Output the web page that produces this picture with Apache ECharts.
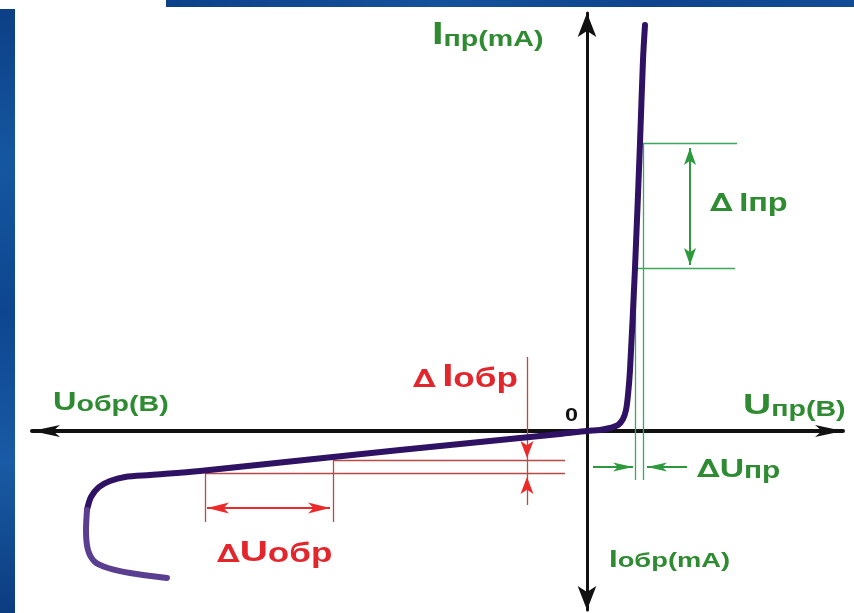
<!DOCTYPE html>
<html lang="ru">
<head>
<meta charset="utf-8">
<title>Вольт-амперная характеристика диода</title>
<script src="https://cdn.jsdelivr.net/npm/echarts@6/dist/echarts.min.js"></script>
<style>
  html, body { margin: 0; padding: 0; background: #ffffff; }
  #chart { width: 854px; height: 613px; }
</style>
</head>
<body>
<div id="chart"></div>
<script>
// ---- Diode I–V curve, schematic units (same scale on both axes) ----
// forward branch, from the top of the steep part down to the origin
const forwardBranch = [
  [5.8, 40.6], [5.6, 37.1], [5.3, 28.8], [4.8, 16.3], [4.3, 6.1], [4.1, 3.6],
  [3.9, 2.1], [3.6, 1.2], [3.1, 0.6], [2.3, 0.3], [1.3, 0.1], [0, 0]
];
// reverse branch, from the origin to the start of breakdown
const reverseBranch = [
  [0, 0], [-2.7, -0.3], [-8.7, -0.9], [-18.7, -1.9], [-25.4, -2.6], [-38.7, -4.0],
  [-43.7, -4.4], [-46.2, -4.6], [-47.7, -5.0], [-48.8, -5.6], [-49.6, -6.6], [-50.0, -7.9]
];
// breakdown hook
const breakdownBranch = [
  [-50.0, -7.9], [-50.1, -9.9], [-49.9, -11.9], [-49.2, -13.1], [-47.9, -13.7],
  [-45.7, -14.2], [-42.0, -14.7]
];

// ΔIпр / ΔUпр dimension lines
const forwardGuides = [
  [[5.3, 28.8], [15.0, 28.8]],
  [[4.8, 16.3], [14.8, 16.3]],
  [[5.6, 28.8], [5.6, -4.9]],
  [[4.8, 16.3], [4.8, -4.9]]
];
const forwardShafts = [
  [[10.3, 28.3], [10.3, 16.6]],
  [[0.6, -3.6], [4.6, -3.6]],
  [[10.0, -3.6], [6.0, -3.6]]
];
const forwardHeads = [
  [10.3, 28.3, 'up'], [10.3, 16.6, 'down'], [4.6, -3.6, 'right'], [6.0, -3.6, 'left']
];

// ΔIобр / ΔUобр dimension lines
const reverseGuides = [
  [[-25.4, -2.9], [-2.2, -2.9]],
  [[-38.2, -4.2], [-2.2, -4.2]],
  [[-6.0, 7.4], [-6.0, -7.4]],
  [[-38.2, -4.2], [-38.2, -9.1]],
  [[-25.4, -2.9], [-25.4, -9.1]]
];
const reverseShafts = [
  [[-38.0, -7.7], [-25.7, -7.7]]
];
const reverseHeads = [
  [-6.0, -2.7, 'down'], [-6.0, -4.6, 'up'], [-38.0, -7.7, 'left'], [-25.7, -7.7, 'right']
];

// captions
const axisTitles = ['Iпр(mA)', 'Uобр(B)', 'Uпр(B)', 'Iобр(mA)'];
const deltaTitles = ['ΔIпр', 'ΔUпр', 'ΔIобр', 'ΔUобр'];
const originLabel = '0';

// ---- layout & styling ----
const X_MIN = -55.5, X_MAX = 25.6, Y_MIN = -17.9, Y_MAX = 41.8;
const CURVE = '#2f1263';
const CURVE_HOOK = '#5a3f91';
const GREEN_LINE = '#3aa85a';
const GREEN_ARROW = '#2c9a3c';
const GREEN_TEXT = '#2e8b31';
const RED_LINE = '#b94a46';
const RED_ARROW = '#ec2a2a';
const RED_TEXT = '#e2262c';
const FONT = '"Liberation Sans", Arial, sans-serif';
const DELTA_FONT = '"DejaVu Sans", sans-serif';
const STRETCH = 1.3;
const ARROW_PATH = 'path://M0,0L6,16L0,12L-6,16Z';

const captionLayout = {
  'Iпр(mA)':  { at: [-15.5, 38.6], big: 32, small: 22, color: GREEN_TEXT },
  'Uобр(B)':  { at: [-53.4, 2.0],  big: 25, small: 22, color: GREEN_TEXT },
  'Uпр(B)':   { at: [15.6, 1.6],   big: 30, small: 22, color: GREEN_TEXT },
  'Iобр(mA)': { at: [2.2, -13.6],  big: 24, small: 21, color: GREEN_TEXT },
  'ΔIпр':     { at: [12.3, 21.9],  delta: 25, gap: 5, big: 25, small: 25, color: GREEN_TEXT },
  'ΔUпр':     { at: [11.0, -4.7],  delta: 25, gap: 0, big: 26, small: 23, color: GREEN_TEXT },
  'ΔIобр':    { at: [-17.4, 4.4],  delta: 25, gap: 5, big: 31, small: 27, color: RED_TEXT },
  'ΔUобр':    { at: [-37.0, -13.1], delta: 25, gap: 0, big: 30, small: 27, color: RED_TEXT },
  '0':        { at: [-2.2, 0.9],   big: 18, small: 18, color: '#111111' }
};

const chart = echarts.init(document.getElementById('chart'), null, { renderer: 'canvas' });

function guideSeries(segments, color, width, z) {
  return {
    type: 'lines', coordinateSystem: 'cartesian2d', silent: true, z: z,
    symbol: 'none',
    lineStyle: { color: color, width: width, opacity: 1, curveness: 0 },
    data: segments.map(function (c) { return { coords: c }; })
  };
}

function headSeries(list, sizeV, sizeH, color) {
  const rot = { up: 0, down: 180, left: 90, right: -90 };
  return {
    type: 'scatter', silent: true, z: 4, symbol: ARROW_PATH, symbolKeepAspect: false,
    itemStyle: { color: color, opacity: 1 },
    data: list.map(function (p) {
      const dir = p[2];
      const s = (dir === 'up' || dir === 'down') ? sizeV : sizeH;
      const h = s[1] / 2;
      const off = { up: [0, h], down: [0, -h], left: [h, 0], right: [-h, 0] }[dir];
      return { value: [p[0], p[1]], symbolSize: s, symbolRotate: rot[dir], symbolOffset: off };
    })
  };
}

const option = {
  animation: false,
  backgroundColor: '#ffffff',
  grid: { left: 32, right: 11, top: 13, bottom: 3, containLabel: false, outerBoundsMode: 'none' },
  xAxis: {
    type: 'value', min: X_MIN, max: X_MAX,
    axisLine: { onZero: true, symbol: ['arrow', 'arrow'], symbolSize: [9, 28],
      lineStyle: { color: '#111111', width: 4 } },
    axisTick: { show: false }, axisLabel: { show: false }, splitLine: { show: false }
  },
  yAxis: {
    type: 'value', min: Y_MIN, max: Y_MAX,
    axisLine: { onZero: true, symbol: ['arrow', 'arrow'], symbolSize: [14, 24],
      lineStyle: { color: '#111111', width: 3 } },
    axisTick: { show: false }, axisLabel: { show: false }, splitLine: { show: false }
  },
  series: [
    guideSeries(forwardGuides, GREEN_LINE, 1.3, 2),
    guideSeries(forwardShafts, GREEN_ARROW, 2, 3),
    headSeries(forwardHeads, [12, 17], [9, 20], GREEN_ARROW),
    guideSeries(reverseGuides, RED_LINE, 1.3, 2),
    guideSeries(reverseShafts, RED_ARROW, 2, 3),
    headSeries(reverseHeads, [13, 17], [11, 22], RED_ARROW),
    {
      type: 'line', name: 'I(U)', data: forwardBranch.concat(reverseBranch.slice(1)),
      showSymbol: false, smooth: 0.3, clip: false, silent: true, z: 5,
      lineStyle: { color: CURVE, width: 6, cap: 'round', join: 'round' }
    },
    {
      type: 'line', name: 'breakdown', data: breakdownBranch,
      showSymbol: false, smooth: 0.3, clip: false, silent: true, z: 5,
      lineStyle: { color: CURVE_HOOK, width: 6, cap: 'round', join: 'round' }
    }
  ],
  graphic: {
    elements: [
      { type: 'rect', id: 'frameLeft', silent: true, z: 100,
        shape: { x: 0, y: 9, width: 15, height: 604 },
        style: { fill: new echarts.graphic.LinearGradient(0, 0, 0, 1, [
          { offset: 0, color: '#0c3f86' }, { offset: 0.25, color: '#15579f' },
          { offset: 0.5, color: '#0d468f' }, { offset: 0.75, color: '#195ba4' },
          { offset: 1, color: '#0c3c80' }]) } },
      { type: 'rect', id: 'frameTop', silent: true, z: 100,
        shape: { x: 166, y: 0, width: 688, height: 7 },
        style: { fill: new echarts.graphic.LinearGradient(0, 0, 1, 0, [
          { offset: 0, color: '#0c4189' }, { offset: 0.4, color: '#15529c' },
          { offset: 0.7, color: '#0d448d' }, { offset: 1, color: '#124c96' }]) } }
    ]
  }
};

chart.setOption(option);

// captions: big first letter, smaller subscript part, optional Δ
function captionElement(text, idx) {
  const L = captionLayout[text];
  const tok = function (size, family) {
    return { fontSize: size, fontFamily: family || FONT, fontWeight: 'bold', fill: L.color, verticalAlign: 'bottom' };
  };
  let body = text;
  let rich = {};
  let str = '';
  if (body.charAt(0) === 'Δ') {
    rich.d = Object.assign(tok(L.delta, DELTA_FONT), { padding: [0, L.gap, 0, 0] });
    str += '{d|∆}';
    body = body.slice(1);
  }
  rich.b = tok(L.big);
  rich.s = tok(L.small);
  str += '{b|' + body.charAt(0) + '}';
  if (body.length > 1) str += '{s|' + body.slice(1) + '}';
  const p = chart.convertToPixel({ gridIndex: 0 }, L.at);
  return {
    type: 'text', id: 'caption' + idx, silent: true, z: 50,
    x: p[0], y: p[1] + Math.round(0.19 * L.big), scaleX: STRETCH, scaleY: 1,
    style: { x: 0, y: 0, text: str, rich: rich, align: 'left', verticalAlign: 'bottom' }
  };
}

const captions = axisTitles.concat(deltaTitles, [originLabel]);
chart.setOption({ graphic: { elements: captions.map(captionElement) } });
</script>
</body>
</html>
